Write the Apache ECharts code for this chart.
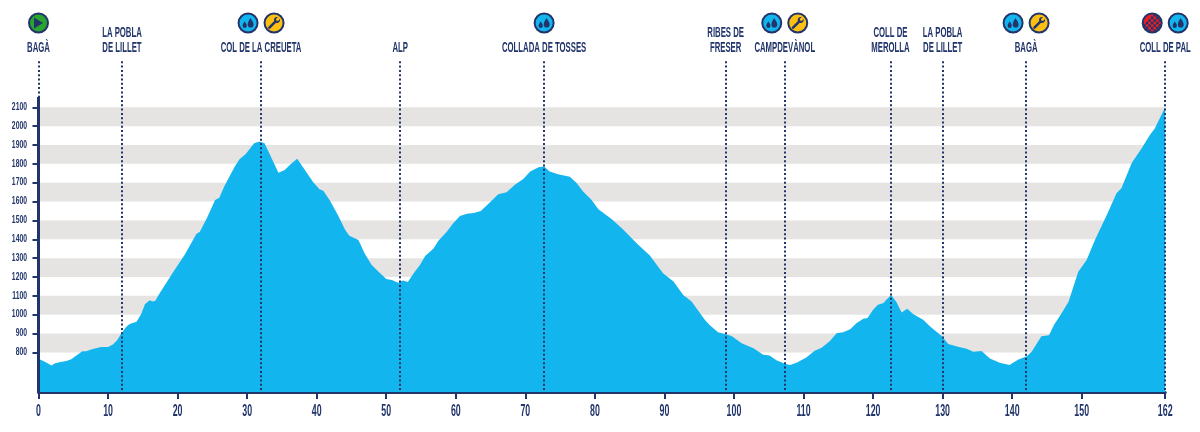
<!DOCTYPE html>
<html><head><meta charset="utf-8">
<style>html,body{margin:0;padding:0;background:#fff}#c{width:1200px;height:432px}</style>
<script src="https://cdn.jsdelivr.net/npm/echarts@6/dist/echarts.min.js"></script>
</head><body><div id="c"></div>
<script>
const profileKm = [0,0.9,1.9,2.3,3,4,4.7,5.4,6.3,6.85,7.8,9,10,10.7,11.3,11.9,12.6,13.1,14.1,14.8,15.3,16,16.4,16.8,17.4,19.3,21,22.7,23.2,24.2,25.4,26,26.7,28.2,28.9,29.8,31,31.8,32.5,33.3,34.5,35.4,36.2,37.2,38.3,39.5,40.4,40.95,41.9,43.1,44.1,44.7,46,46.9,47.9,48.9,50,50.8,51.7,52.4,53.1,54.1,54.85,55.6,56.8,57.5,58.7,59.6,60.6,61.6,62.6,63.6,64.7,66.1,67.3,68.5,69.7,70.7,71.9,72.7,73.5,74.7,76.4,77.4,78.3,79.5,80.5,82.4,84.1,86,87.9,89.8,91.3,92.7,93.9,95.8,96.5,97.7,98.8,99.66,101.1,102.8,104.2,105.1,106.1,107.3,108.05,109,110.4,111.6,112.6,113.8,114.75,115.7,116.7,117.6,118.6,119.2,120,120.7,121.5,121.9,122.6,123.4,124.1,124.9,125.8,127.2,128.2,129.9,130.8,132.2,133.45,134.4,135.6,136.8,138.2,139.6,140.9,142.1,142.8,143.5,144.2,145.3,146,147.1,148.1,149.5,150.7,151.9,153.6,155,155.7,157.2,158.6,159.8,160.5,162];
const profileEle = [767,750,730,741,748,754,764,782,806,806,818,829,829,842,865,900,935,950,962,1006,1056,1077,1070,1074,1113,1222,1316,1428,1440,1511,1608,1620,1680,1785,1824,1852,1909,1918,1909,1847,1753,1767,1797,1827,1767,1702,1665,1658,1605,1525,1449,1419,1396,1325,1263,1228,1189,1184,1170,1181,1174,1228,1263,1311,1351,1392,1440,1484,1523,1536,1539,1550,1588,1639,1650,1689,1720,1759,1782,1786,1759,1745,1731,1697,1653,1609,1559,1508,1450,1379,1314,1220,1176,1105,1070,973,946,907,896,887,848,822,788,784,759,740,733,745,773,809,825,860,902,907,923,955,978,982,1026,1053,1062,1079,1104,1065,1012,1031,1003,973,938,886,844,830,819,803,807,768,745,733,763,780,803,844,886,891,945,1007,1069,1228,1290,1396,1529,1644,1670,1806,1882,1953,1988,2100];
const stopKm = [0,12,32,52,72.7,98.8,107.3,122.5,130,142,162];
const stopNames = ['BAGÀ','LA POBLA\nDE LILLET','COL DE LA CREUETA','ALP','COLLADA DE TOSSES','RIBES DE\nFRESER','CAMPDEVÀNOL','COLL DE\nMEROLLA','LA POBLA\nDE LILLET','BAGÀ','COLL DE PAL'];
const startKm = [0];
const finishKm = [162];
const waterKm = [32,72.7,107.3,142,162];
const waterSide = [-1,0,-1,-1,1];
const wrenchKm = [32,107.3,142];
const xTicks = [0,10,20,30,40,50,60,70,80,90,100,110,120,130,140,150,162];
const yTicks = [800,900,1000,1100,1200,1300,1400,1500,1600,1700,1800,1900,2000,2100];
const bandEdges = [[800,900],[1000,1100],[1200,1300],[1400,1500],[1600,1700],[1800,1900],[2000,2100]];
const axisTopEle = 2155, lineTopEle = 2346, labelEle = 2378, iconEle = 2547;

const NAVY='#22356b', BLUE='#13b5ee', GREY='#e5e4e2', FONT='"Liberation Sans",Arimo,sans-serif';
const DROPS='path://M6 6C7.5 9 10 11 10 14A4 4 0 0 1 2 14C2 11 4.5 9 6 6ZM17 0C19 4 23 7 23 11.5A5.6 5.6 0 0 1 11.8 11.5C11.8 7 15 4 17 0Z';
const WRENCH='path://M17 0C14 0 11.5 2.4 11.5 5.5C11.5 6.3 11.7 7 12 7.7L1 18.5C0 19.5 0 21 1 22C2 23 3.5 23 4.5 22L15.5 11C16.1 11.2 16.8 11.4 17.5 11.4C20.6 11.4 23 8.9 23 5.9C23 5.2 22.9 4.6 22.7 4L19 7.6L16 6.8L15.2 3.8L18.9 0.3C18.3 0.1 17.7 0 17 0Z';
let CHECK='path://M0 0h0.01v0.01h-0.01Z';
for(let i=0;i<7;i++)for(let j=0;j<7;j++){
  const dx=i-3,dy=j-3;
  if((i+j)%2===0 && i+j>=4 && dx*dx+dy*dy<=11) CHECK+='M'+(i*2)+' '+(j*2)+'h2v2h-2Z';
}
CHECK+='M14 14h0.01v0.01h-0.01Z';

const pairs=(k,v)=>k.map((x,i)=>[x,v[i]]);
const disc=(name,data,color,z)=>({name,type:'scatter',data,symbol:'circle',symbolSize:19,z,silent:true,clip:false,
  itemStyle:{color,borderColor:NAVY,borderWidth:2,opacity:1}});
const OFF=13;
const waterData=waterKm.map((k,i)=>({value:[k,iconEle],symbolOffset:[waterSide[i]*OFF,0]}));
const wrenchData=wrenchKm.map(k=>({value:[k,iconEle],symbolOffset:[OFF,0]}));
const startData=startKm.map(k=>[k,iconEle]);
const finishData=finishKm.map(k=>({value:[k,iconEle],symbolOffset:[-OFF,0]}));

// text squeezed horizontally, placed through the axes' own scales
function textSeries(name,data,o){
  return {name,type:'custom',data,z:5,silent:true,clip:false,coordinateSystem:'cartesian2d',
    encode:{x:0,y:1},
    renderItem:(p,api)=>{
      const c=api.coord([api.value(0),api.value(1)]);
      const t=data[p.dataIndex][2];
      return {type:'text',x:c[0]+(o.dx||0),y:c[1]+(o.dy||0),scaleX:o.scaleX,silent:true,
        style:{text:t,fill:NAVY,font:'bold '+o.size+'px '+FONT,lineHeight:o.lh||o.size,align:o.align,verticalAlign:o.va}};
    }};
}

const chart=echarts.init(document.getElementById('c'),null,{renderer:'canvas'});
chart.setOption({
  animation:false,
  grid:{left:38.5,right:34.8,top:0,bottom:40,containLabel:false},
  xAxis:{type:'value',min:0,max:162,splitLine:{show:false},
    axisLine:{show:true,onZero:false,lineStyle:{color:NAVY,width:3}},
    axisTick:{show:true,length:7,customValues:xTicks,lineStyle:{color:NAVY,width:2}},
    axisLabel:{show:false}},
  yAxis:{type:'value',min:590,max:2669,splitLine:{show:false},
    axisLine:{show:false},
    axisTick:{show:true,length:6,customValues:yTicks,lineStyle:{color:NAVY,width:2}},
    axisLabel:{show:false}},
  series:[
    {name:'bands',type:'line',data:[],z:1,silent:true,
      markArea:{silent:true,itemStyle:{color:GREY},label:{show:false},
        data:bandEdges.map(b=>[{xAxis:0,yAxis:b[0]},{xAxis:162,yAxis:b[1]}])}},
    {name:'profile',type:'line',data:pairs(profileKm,profileEle),showSymbol:false,smooth:false,z:2,silent:true,
      lineStyle:{width:0},areaStyle:{color:BLUE,opacity:1}},
    {name:'stops',type:'line',data:[],z:3,silent:true,
      markLine:{silent:true,symbol:'none',label:{show:false},animation:false,
        lineStyle:{color:NAVY,width:2,type:[2,2.3],opacity:1},
        data:stopKm.map(k=>[{coord:[k,600]},{coord:[k,lineTopEle]}])}},
    {name:'axis',type:'line',data:[[0,590],[0,axisTopEle]],showSymbol:false,z:4,silent:true,clip:false,
      lineStyle:{color:NAVY,width:3}},
    textSeries('labels',stopKm.map((k,i)=>[k,labelEle,stopNames[i]]),{scaleX:0.5,size:15.5,lh:15,align:'center',va:'bottom'}),
    textSeries('xLabels',xTicks.map(k=>[k,590,String(k)]),{scaleX:0.52,size:17,align:'center',va:'middle',dy:19.5}),
    textSeries('yLabels',yTicks.map(v=>[0,v,String(v)]),{scaleX:0.68,size:10,align:'right',va:'middle',dx:-11.5}),
    disc('start',startData,'#2aa52f',6),
    {name:'startGlyph',type:'scatter',data:startData,symbol:'triangle',symbolRotate:-90,symbolSize:[11,9],z:7,silent:true,clip:false,itemStyle:{color:NAVY,opacity:1}},
    disc('finish',finishData,'#ee1c25',6),
    {name:'finishGlyph',type:'scatter',data:finishData,symbol:CHECK,symbolSize:[18,18],z:7,silent:true,clip:false,itemStyle:{color:NAVY,opacity:1}},
    disc('water',waterData,BLUE,6),
    {name:'waterGlyph',type:'scatter',data:waterData,symbol:DROPS,symbolSize:[11,10],z:7,silent:true,clip:false,itemStyle:{color:NAVY,opacity:1}},
    disc('wrench',wrenchData,'#fdc010',6),
    {name:'wrenchGlyph',type:'scatter',data:wrenchData,symbol:WRENCH,symbolSize:[12,12],z:7,silent:true,clip:false,itemStyle:{color:NAVY,opacity:1}}
  ]
});
</script></body></html>
